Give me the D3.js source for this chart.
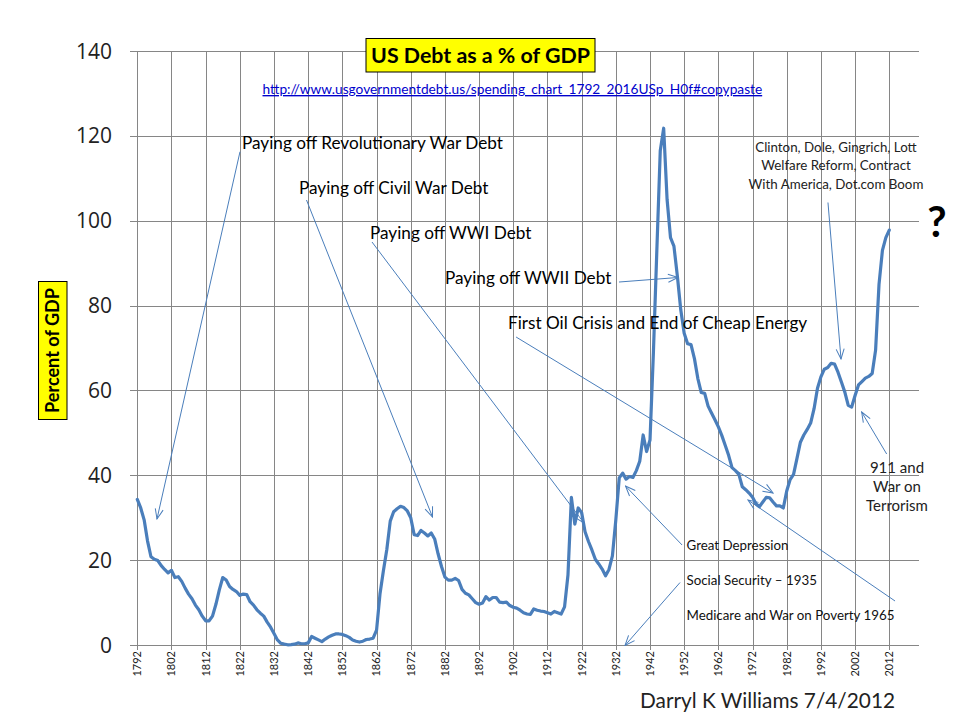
<!DOCTYPE html>
<html><head><meta charset="utf-8">
<script src="https://cdn.jsdelivr.net/npm/d3@7"></script>
<style>body{margin:0;background:#fff}svg{display:block}</style>
</head><body>
<svg id="chart" width="960" height="720"></svg>
<script>
// ---------------- DATA ----------------
const startYear = 1792;
const debtPctOfGDP = [
  34.3, 32.3, 29.5, 24.5, 20.8, 20.2, 19.9, 18.7, 17.8, 17.0,   // 1792-1801
  17.6, 15.9, 16.1, 15.0, 13.4, 12.0, 10.9, 9.4, 8.3, 6.8,      // 1802-1811
  5.7, 5.7, 6.8, 9.6, 13.0, 15.9, 15.3, 13.8, 13.1, 12.6,       // 1812-1821
  11.7, 12.0, 11.9, 10.2, 9.4, 8.3, 7.5, 6.8, 5.4, 4.2,         // 1822-1831
  2.7, 1.2, 0.4, 0.2, 0.05, 0.1, 0.2, 0.5, 0.3, 0.3,            // 1832-1841
  0.5, 2.0, 1.6, 1.2, 0.8, 1.4, 1.9, 2.3, 2.6, 2.6,             // 1842-1851
  2.5, 2.2, 1.8, 1.2, 0.9, 0.7, 0.9, 1.3, 1.4, 1.6,             // 1852-1861
  3.5, 12.0, 17.5, 22.5, 29.2, 31.4, 32.1, 32.7, 32.4, 31.6,    // 1862-1871
  30.0, 26.0, 25.8, 27.0, 26.4, 25.7, 26.4, 25.0, 21.5, 18.5,   // 1872-1881
  16.0, 15.3, 15.3, 15.7, 15.2, 13.1, 12.2, 11.8, 10.9, 10.0,   // 1882-1891
  9.6, 9.9, 11.4, 10.6, 11.2, 11.2, 10.1, 10.0, 10.1, 9.3,      // 1892-1901
  8.9, 8.7, 8.2, 7.6, 7.3, 7.2, 8.5, 8.2, 8.0, 7.9,             // 1902-1911
  7.6, 7.3, 7.9, 7.6, 7.3, 9.0, 16.5, 34.8, 28.5, 32.3,         // 1912-1921
  31.2, 26.7, 24.4, 22.4, 20.2, 19.1, 17.9, 16.3, 17.8, 21.0,   // 1922-1931
  29.5, 39.4, 40.5, 39.1, 39.7, 39.5, 41.1, 43.3, 49.5, 45.6,   // 1932-1941
  48.3, 69.0, 93.0, 116.5, 121.8, 105.0, 96.0, 94.0, 87.0, 79.0,// 1942-1951
  73.5, 71.0, 70.8, 67.5, 62.8, 59.5, 59.3, 56.3, 54.7, 53.1,   // 1952-1961
  51.4, 49.4, 47.1, 44.7, 41.8, 41.1, 40.2, 37.3, 36.6, 35.8,   // 1962-1971
  34.8, 33.3, 32.6, 33.7, 34.8, 34.7, 33.7, 32.8, 32.8, 32.3,   // 1972-1981
  36.3, 39.0, 40.2, 44.0, 47.8, 49.5, 50.8, 52.3, 55.7, 60.5,   // 1982-1991
  63.2, 65.0, 65.4, 66.4, 66.2, 64.3, 62.0, 59.6, 56.5, 56.1,   // 1992-2001
  58.8, 61.3, 62.1, 62.9, 63.3, 64.0, 69.5, 85.0, 93.0, 96.0,   // 2002-2011
  97.8                                                          // 2012
];
const years = debtPctOfGDP.map((d, i) => startYear + i);
const yTickValues = [0, 20, 40, 60, 80, 100, 120, 140];
const xTickYears = d3.range(1792, 2013, 10);

const titleText = "US Debt as a % of GDP";
const sourceUrl = "http://www.usgovernmentdebt.us/spending_chart_1792_2016USp_H0f#copypaste";
const yAxisTitle = "Percent of GDP";
const authorText = "Darryl K Williams 7/4/2012";

// annotation texts (lines), anchor in data coords [year, pct]
const noteLines = [
  ["Paying off Revolutionary War Debt"],
  ["Paying off Civil War Debt"],
  ["Paying off WWI Debt"],
  ["Paying off WWII Debt"],
  ["First Oil Crisis and End of Cheap Energy"],
  ["Great Depression"],
  ["Social Security \u2013 1935"],
  ["Medicare and War on Poverty 1965"],
  ["Clinton, Dole, Gingrich, Lott", "Welfare Reform, Contract", "With America, Dot.com Boom"],
  ["911 and", "War on", "Terrorism"]
];
const noteAnchorYear = [1822.63, 1839.31, 1860.08, 1882.02, 1900.46, 1952.68, 1952.68, 1952.68, 1996.42, 2014.26];
const noteAnchorPct  = [116.9, 106.3, 95.69, 85.08, 74.48, 22.39, 14.14, 5.89, 116.2, 40.54];
// arrows: from [year,pct] to [year,pct]
const arrowFromYear = [1822.05, 1841.50, 1860.67, 1932.93, 1902.82, 1951.38, 1950.79, 2013.69, 1994.07, 2011.24];
const arrowFromPct  = [116.26, 104.88, 94.98, 85.55, 72.59, 23.57, 14.73, 10.37, 104.29, 45.02];
const arrowToYear   = [1797.76, 1878.37, 1922.69, 1950.22, 1978.0, 1934.83, 1934.68, 1970.66, 1997.88, 2003.92];
const arrowToPct    = [29.70, 30.17, 28.75, 86.62, 35.82, 37.47, -0.12, 34.17, 67.41, 54.91];

// ---------------- LAYOUT / STYLE ----------------
// notes share a font size per group; the group's size is fitted on one reference line width
const noteGroup = [0, 0, 0, 0, 0, 1, 1, 1, 2, 3];
const groupStyle = [
  {ref: 0, width: 261, size: 18.5, fill: "#000", anchor: "start", lh: 0},
  {ref: 7, width: 208, size: 14.5, fill: "#111", anchor: "start", lh: 0},
  {ref: 8, width: 175, size: 14, fill: "#222", anchor: "middle", lh: 18.3},
  {ref: 9, width: 62, size: 14, fill: "#222", anchor: "middle", lh: 19}
];
const FONT = "Lato, 'Open Sans', sans-serif";
const lineColor = "#4a7ebb";
const gridColor = "#868686";

const svg = d3.select("#chart");
const x = d3.scaleLinear().domain([1792, 2020.7]).range([137.3, 919]);
const y = d3.scaleLinear().domain([0, 140]).range([645, 51]);

function fitWidth(sel, target) {
  const n = sel.node();
  const fs = parseFloat(sel.attr("font-size"));
  const len = n.getComputedTextLength();
  if (len > 0) sel.attr("font-size", (fs * target / len).toFixed(2));
}

// gridlines
const grid = svg.append("g").attr("shape-rendering", "crispEdges");
grid.selectAll("line.h").data(yTickValues).join("line")
  .attr("x1", x(1792) - 7).attr("x2", x.range()[1])
  .attr("y1", d => Math.round(y(d)) + 0.5).attr("y2", d => Math.round(y(d)) + 0.5)
  .attr("stroke", gridColor).attr("stroke-width", 1);
grid.selectAll("line.v").data(xTickYears).join("line")
  .attr("x1", d => Math.round(x(d)) + 0.5).attr("x2", d => Math.round(x(d)) + 0.5)
  .attr("y1", y(140)).attr("y2", y(0) + 5)
  .attr("stroke", gridColor).attr("stroke-width", 1);

// y tick labels
svg.append("g").selectAll("text").data(yTickValues).join("text")
  .attr("x", 112).attr("y", d => y(d)).attr("dy", "0.36em")
  .attr("text-anchor", "end")
  .attr("font-family", "'Open Sans', sans-serif").attr("font-size", 21)
  .attr("fill", "#222").text(d => d);

// x tick labels (rotated)
svg.append("g").selectAll("text").data(xTickYears).join("text")
  .attr("transform", d => `translate(${x(d)},651) rotate(-90)`)
  .attr("dy", "0.35em").attr("text-anchor", "end")
  .attr("font-family", FONT).attr("font-size", 11)
  .attr("fill", "#222").text(d => d);

// data line
const series = years.map((yr, i) => ({year: yr, value: debtPctOfGDP[i]}));
svg.append("path").datum(series)
  .attr("fill", "none").attr("stroke", lineColor).attr("stroke-width", 3.2)
  .attr("stroke-linejoin", "round").attr("stroke-linecap", "round")
  .attr("d", d3.line().x(d => x(d.year)).y(d => y(d.value)));

// arrow marker
svg.append("defs").append("marker")
  .attr("id", "openArrow").attr("viewBox", "0 0 12 10")
  .attr("refX", 11).attr("refY", 5).attr("markerWidth", 12).attr("markerHeight", 10)
  .attr("markerUnits", "userSpaceOnUse").attr("orient", "auto")
  .append("path").attr("d", "M1,1 L11,5 L1,9").attr("fill", "none")
  .attr("stroke", lineColor).attr("stroke-width", 1);

svg.append("g").selectAll("line").data(d3.range(arrowFromYear.length)).join("line")
  .attr("x1", i => x(arrowFromYear[i])).attr("y1", i => y(arrowFromPct[i]))
  .attr("x2", i => x(arrowToYear[i])).attr("y2", i => y(arrowToPct[i]))
  .attr("stroke", lineColor).attr("stroke-width", 1)
  .attr("marker-end", "url(#openArrow)");

// compute group font sizes by measuring the reference line of each group
const probe = svg.append("text").attr("font-family", FONT).attr("visibility", "hidden");
const groupSize = groupStyle.map(g => {
  const lines = noteLines[g.ref];
  let maxLen = 0;
  lines.forEach(ln => {
    probe.attr("font-size", g.size).text(ln);
    maxLen = Math.max(maxLen, probe.node().getComputedTextLength());
  });
  return maxLen > 0 ? g.size * g.width / maxLen : g.size;
});
probe.remove();

// annotation texts
noteLines.forEach((lines, i) => {
  const g = groupStyle[noteGroup[i]];
  const t = svg.append("text")
    .attr("x", x(noteAnchorYear[i])).attr("y", y(noteAnchorPct[i]))
    .attr("text-anchor", g.anchor)
    .attr("font-family", FONT).attr("font-size", groupSize[noteGroup[i]].toFixed(2)).attr("fill", g.fill);
  lines.forEach((ln, j) => {
    t.append("tspan").attr("x", x(noteAnchorYear[i])).attr("dy", j === 0 ? 0 : g.lh).text(ln);
  });
});

// question mark
svg.append("text").attr("x", x(2025.97)).attr("y", y(96.16))
  .attr("text-anchor", "middle").attr("font-family", FONT).attr("font-weight", 700)
  .attr("font-size", 42).attr("fill", "#000").text("?");

// title box
svg.append("rect").attr("x", 366).attr("y", 38.5).attr("width", 229).attr("height", 33.5)
  .attr("fill", "#ffff00").attr("stroke", "#000").attr("stroke-width", 1);
const title = svg.append("text").attr("x", 480.5).attr("y", 63)
  .attr("text-anchor", "middle").attr("font-family", FONT).attr("font-weight", 700)
  .attr("font-size", 23).attr("fill", "#000").text(titleText);
fitWidth(title, 219);

// source url
const url = svg.append("text").attr("x", 262.5).attr("y", 94)
  .attr("font-family", FONT).attr("font-size", 13).attr("fill", "#0000cc")
  .attr("text-decoration", "underline").text(sourceUrl);
fitWidth(url, 500);

// y axis title box
svg.append("rect").attr("x", 38.5).attr("y", 281.5).attr("width", 28.5).attr("height", 138)
  .attr("fill", "#ffff00").attr("stroke", "#000").attr("stroke-width", 1);
const ylab = svg.append("text").attr("transform", "translate(52.8,350.5) rotate(-90)")
  .attr("text-anchor", "middle").attr("dy", "0.36em")
  .attr("font-family", FONT).attr("font-weight", 700).attr("font-size", 19)
  .attr("fill", "#000").text(yAxisTitle);
fitWidth(ylab, 125);

// author
const author = svg.append("text").attr("x", 640).attr("y", 708)
  .attr("font-family", FONT).attr("font-size", 20).attr("fill", "#222").text(authorText);
fitWidth(author, 255);
</script>
</body></html>
